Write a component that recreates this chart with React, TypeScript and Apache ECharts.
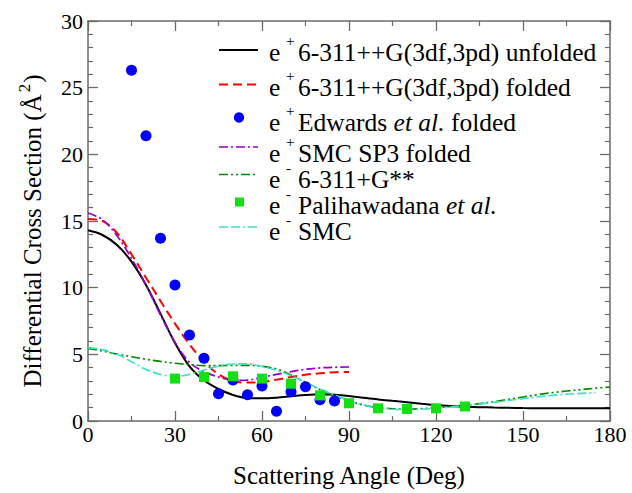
import React, { useEffect, useRef } from "react";
import * as echarts from "echarts";

// Scattering angles (deg) at which the computed curves are sampled
const anglesTo180 = [0, 5, 10, 15, 20, 25, 30, 35, 40, 45, 50, 55, 60, 65, 70, 75, 80, 85, 90, 95, 100, 105, 110, 115, 120, 125, 130, 135, 140, 145, 150, 155, 160, 165, 170, 175, 180];
const anglesTo175 = [0, 5, 10, 15, 20, 25, 30, 35, 40, 45, 50, 55, 60, 65, 70, 75, 80, 85, 90, 95, 100, 105, 110, 115, 120, 125, 130, 135, 140, 145, 150, 155, 160, 165, 170, 175];
const anglesTo90 = [0, 5, 10, 15, 20, 25, 30, 35, 40, 45, 50, 55, 60, 65, 70, 75, 80, 85, 90];

// e+ 6-311++G(3df,3pd) unfolded
const posUnfolded = [14.3, 13.95, 13.2, 11.95, 10.2, 8.05, 5.85, 4.1, 3.05, 2.4, 1.95, 1.72, 1.7, 1.75, 1.85, 1.95, 2.0, 1.97, 1.88, 1.74, 1.62, 1.51, 1.41, 1.3, 1.2, 1.13, 1.08, 1.04, 1.01, 0.99, 0.97, 0.96, 0.95, 0.95, 0.95, 0.95, 0.95];
// e+ 6-311++G(3df,3pd) folded
const posFolded = [15.15, 15.0, 14.1, 12.5, 10.75, 9.0, 7.3, 5.75, 4.45, 3.5, 3.0, 2.88, 2.92, 3.1, 3.3, 3.47, 3.58, 3.65, 3.68];
// e+ SMC SP3 folded
const posSmcFolded = [15.6, 15.1, 13.9, 12.2, 10.2, 7.95, 5.9, 4.4, 3.7, 3.3, 3.05, 3.07, 3.28, 3.5, 3.7, 3.88, 3.98, 4.03, 4.05];
// e- 6-311+G**
const elecGaussian = [5.45, 5.25, 5.02, 4.82, 4.63, 4.47, 4.33, 4.22, 4.16, 4.15, 4.17, 4.18, 4.1, 3.9, 3.45, 2.9, 2.35, 1.9, 1.5, 1.2, 1.0, 0.92, 0.89, 0.93, 1.0, 1.08, 1.18, 1.3, 1.45, 1.62, 1.8, 1.97, 2.12, 2.25, 2.36, 2.46, 2.55];
// e- SMC
const elecSmc = [5.5, 5.35, 5.0, 4.45, 3.87, 3.5, 3.35, 3.5, 3.82, 4.12, 4.27, 4.28, 4.1, 3.8, 3.4, 2.9, 2.4, 1.95, 1.55, 1.2, 0.98, 0.88, 0.85, 0.88, 0.95, 1.04, 1.15, 1.27, 1.4, 1.54, 1.68, 1.81, 1.92, 2.01, 2.07, 2.12];

// e+ Edwards et al. folded (measured)
const edwardsAngles = [15, 20, 25, 30, 35, 40, 45, 50, 55, 60, 65, 70, 75, 80, 85];
const edwardsValues = [26.3, 21.4, 13.7, 10.2, 6.45, 4.7, 2.05, 3.08, 1.97, 2.62, 0.73, 2.2, 2.57, 1.6, 1.5];
// e- Palihawadana et al. (measured)
const palihAngles = [30, 40, 50, 60, 70, 80, 90, 100, 110, 120, 130];
const palihValues = [3.18, 3.3, 3.35, 3.18, 2.8, 1.92, 1.33, 0.95, 0.9, 0.95, 1.09];

const xTicks = { min: 0, max: 180, interval: 30 };
const yTicks = { min: 0, max: 30, interval: 5 };

const FONT = "Liberation Serif";
const AXIS_GREY = "#6b6b6b";

const pairs = (xs: number[], ys: number[]) => ys.map((y, i) => [xs[i], y]);

const C_BLACK = "#000000";
const C_RED = "#ff0000";
const C_BLUE = "#0000ff";
const C_VIOLET = "#9400d3";
const C_DKGREEN = "#008b00";
const C_LIME = "#12e012";
const C_TURQ = "#40e0d0";

const DASH_RED = [9, 5];
const DASH_VIOLET = [9, 3, 2, 3];
const DASH_DKGREEN = [9, 3, 2, 3, 2, 3];
const DASH_TURQ = [9, 3, 9, 3, 2, 3];

function axisCommon(showLabels: boolean) {
  return {
    axisLine: { show: true, onZero: false, lineStyle: { color: AXIS_GREY, width: 1.5 } },
    axisTick: { show: true, inside: true, length: 10, lineStyle: { color: AXIS_GREY, width: 1.3 } },
    splitLine: { show: false },
    minorSplitLine: { show: false },
    axisLabel: {
      show: showLabels,
      fontFamily: FONT,
      fontSize: 22,
      color: "#000",
      showMinLabel: true,
      showMaxLabel: true,
    },
  };
}

const minorTick = (splitNumber: number) => ({
  show: true,
  splitNumber,
  length: 5,
  lineStyle: { color: AXIS_GREY, width: 1.2 },
});

const LEGEND_FS = 25.5;

const legendRich = {
  n: { fontFamily: FONT, fontSize: LEGEND_FS, lineHeight: 22, fill: "#000" },
  i: { fontFamily: FONT, fontSize: LEGEND_FS, lineHeight: 22, fontStyle: "italic", fill: "#000" },
  s: { fontFamily: FONT, fontSize: 15, lineHeight: 12, fill: "#000" },
};

// One legend entry: sample mark, "e", raised charge sign, and the label body
function legendRow(y: number, charge: string, body: string, mark: any) {
  return [
    mark,
    {
      type: "text",
      x: 269,
      y,
      style: { text: "{n|e}", fontFamily: FONT, fill: "#000", verticalAlign: "middle", rich: legendRich },
    },
    {
      type: "text",
      x: 286,
      y: y - 11,
      style: { text: `{s|${charge}}`, fontFamily: FONT, fill: "#000", verticalAlign: "middle", rich: legendRich },
    },
    {
      type: "text",
      x: 298,
      y,
      style: { text: body, fontFamily: FONT, fill: "#000", verticalAlign: "middle", rich: legendRich },
    },
  ];
}

const legendLine = (y: number, color: string, dash: number[] | null, width = 2) => ({
  type: "line",
  shape: { x1: 219, y1: y, x2: 258, y2: y },
  style: { stroke: color, lineWidth: width, lineDash: dash || undefined },
});

export default function App() {
  const ref = useRef<HTMLDivElement>(null);

  useEffect(() => {
    const chart = echarts.init(ref.current!, null, { renderer: "svg" });

    const legend = [
      ...legendRow(52, "+", "{n|6-311++G(3df,3pd) unfolded}", legendLine(50, C_BLACK, null)),
      ...legendRow(87, "+", "{n|6-311++G(3df,3pd) folded}", legendLine(84.5, C_RED, DASH_RED)),
      ...legendRow(122, "+", "{n|Edwards }{i|et al.}{n| folded}", {
        type: "circle",
        shape: { cx: 239, cy: 117.5, r: 5.2 },
        style: { fill: C_BLUE },
      }),
      ...legendRow(153, "+", "{n|SMC SP3 folded}", legendLine(147, C_VIOLET, DASH_VIOLET, 1.6)),
      ...legendRow(179, "-", "{n|6-311+G**}", legendLine(174.5, C_DKGREEN, DASH_DKGREEN, 1.6)),
      ...legendRow(205, "-", "{n|Palihawadana }{i|et al.}", {
        type: "rect",
        shape: { x: 235, y: 197.5, width: 9, height: 9 },
        style: { fill: C_LIME },
      }),
      ...legendRow(231, "-", "{n|SMC}", legendLine(227, C_TURQ, DASH_TURQ, 1.6)),
    ];

    const lineSeries = (name: string, xs: number[], ys: number[], color: string, dash: number[] | null, width: number) => ({
      name,
      type: "line",
      data: pairs(xs, ys),
      showSymbol: false,
      symbol: "none",
      smooth: 0.35,
      lineStyle: { color, width, type: dash || "solid" },
      z: 2,
    });

    chart.setOption({
      animation: false,
      backgroundColor: "#ffffff",
      textStyle: { fontFamily: FONT },
      grid: { left: 88, right: 22, top: 21, bottom: 61, containLabel: false },
      xAxis: [
        {
          type: "value",
          position: "bottom",
          ...xTicks,
          ...axisCommon(true),
          minorTick: minorTick(2),
          axisLabel: { ...axisCommon(true).axisLabel, margin: 2 },
          name: "Scattering Angle (Deg)",
          nameLocation: "middle",
          nameGap: 42,
          nameTextStyle: { fontFamily: FONT, fontSize: 25, color: "#000" },
        },
        {
          type: "value",
          position: "top",
          ...xTicks,
          ...axisCommon(false),
          minorTick: minorTick(2),
        },
      ],
      yAxis: [
        {
          type: "value",
          position: "left",
          ...yTicks,
          ...axisCommon(true),
          minorTick: minorTick(5),
          axisLabel: { ...axisCommon(true).axisLabel, margin: 5 },
        },
        {
          type: "value",
          position: "right",
          ...yTicks,
          ...axisCommon(false),
          minorTick: minorTick(5),
        },
      ],
      series: [
        lineSeries("e+ 6-311++G(3df,3pd) unfolded", anglesTo180, posUnfolded, C_BLACK, null, 2),
        lineSeries("e+ 6-311++G(3df,3pd) folded", anglesTo90, posFolded, C_RED, DASH_RED, 2),
        lineSeries("e+ SMC SP3 folded", anglesTo90, posSmcFolded, C_VIOLET, DASH_VIOLET, 1.7),
        lineSeries("e- 6-311+G**", anglesTo180, elecGaussian, C_DKGREEN, DASH_DKGREEN, 1.7),
        lineSeries("e- SMC", anglesTo175, elecSmc, C_TURQ, DASH_TURQ, 1.7),
        {
          name: "e+ Edwards et al. folded",
          type: "scatter",
          data: pairs(edwardsAngles, edwardsValues),
          symbol: "circle",
          symbolSize: 11,
          itemStyle: { color: C_BLUE, opacity: 1 },
          z: 3,
        },
        {
          name: "e- Palihawadana et al.",
          type: "scatter",
          data: pairs(palihAngles, palihValues),
          symbol: "rect",
          symbolSize: 10,
          itemStyle: { color: C_LIME, opacity: 1 },
          z: 3,
        },
      ],
      graphic: [
        {
          type: "text",
          x: 32,
          y: 231,
          rotation: Math.PI / 2,
          style: {
            text: "{a|Differential Cross Section (Å}{s|2}{a|)}",
            align: "center",
            verticalAlign: "middle",
            rich: {
              a: { fontFamily: FONT, fontSize: 25, lineHeight: 32, fill: "#000" },
              s: { fontFamily: FONT, fontSize: 17, lineHeight: 14, verticalAlign: "top", fill: "#000", padding: [0, 1, 0, 2] },
            },
          },
        },
        ...legend,
      ],
    });

    return () => chart.dispose();
  }, []);

  return (
    <div
      ref={ref}
      style={{ position: "fixed", left: 0, top: 0, width: 632, height: 493, background: "#fff" }}
    />
  );
}
